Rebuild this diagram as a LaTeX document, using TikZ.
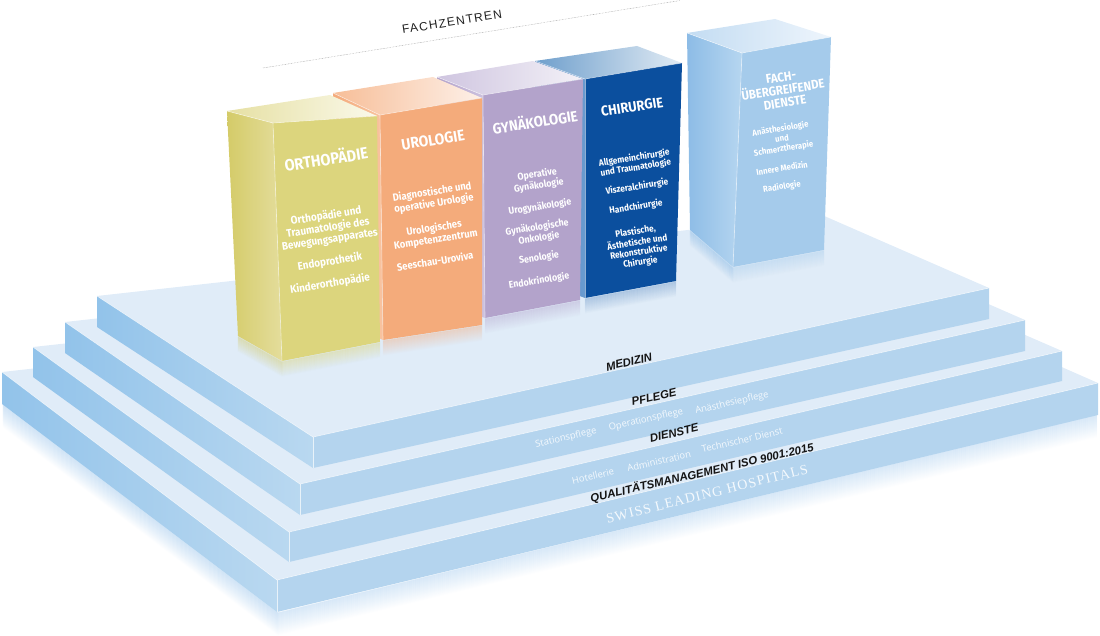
\documentclass[tikz,border=0pt]{standalone}
\usepackage{fontspec}
\setmainfont{Liberation Sans}
\newfontfamily\boxfont[FakeStretch=0.9]{Fira Sans}
\newfontfamily\thinfont{Open Sans}
\newfontfamily\serfont[LetterSpace=8]{Liberation Serif}
\newfontfamily\capfont[LetterSpace=10]{Liberation Sans}
\usetikzlibrary{calc}
% slab colours
\definecolor{slabT}{HTML}{E0ECF8}
\definecolor{slabR}{HTML}{B4D4EE}
\definecolor{slabLa}{HTML}{92C3EA}
\definecolor{slabLb}{HTML}{B9D8F0}
\definecolor{shad}{HTML}{A9CDEE}
% box colours
\definecolor{yelF}{HTML}{DCD57D}\definecolor{yelLa}{HTML}{D4CB68}\definecolor{yelLb}{HTML}{E4DD9C}
\definecolor{yelTa}{HTML}{E6E0A3}\definecolor{yelTb}{HTML}{FAF9EA}
\definecolor{oraF}{HTML}{F4AB7B}\definecolor{oraLa}{HTML}{F4AB7B}\definecolor{oraLb}{HTML}{F8C3A0}
\definecolor{oraTa}{HTML}{F7BE98}\definecolor{oraTb}{HTML}{FDF0E8}
\definecolor{lilF}{HTML}{B3A3CB}\definecolor{lilLa}{HTML}{B3A3CB}\definecolor{lilLb}{HTML}{CDC2DF}
\definecolor{lilTa}{HTML}{CFC5E0}\definecolor{lilTb}{HTML}{F3F1F7}
\definecolor{chiF}{HTML}{0B4F9E}\definecolor{chiLa}{HTML}{4F86C2}\definecolor{chiLb}{HTML}{6A9BD0}
\definecolor{chiTa}{HTML}{6F9FCC}\definecolor{chiTb}{HTML}{E1EBF4}
\definecolor{facF}{HTML}{A5CBEB}\definecolor{facLa}{HTML}{8DBCE6}\definecolor{facLb}{HTML}{B6D6F0}
\definecolor{facTa}{HTML}{C3DCF2}\definecolor{facTb}{HTML}{EEF5FC}
\definecolor{ink}{HTML}{141414}
\definecolor{itemc}{HTML}{F4F9FD}

% slab: Lx Ly Fx Fy Rx Ry Bx By thickness
\newcommand\slab[9]{%
  \fill[slabT] (#1,#2) -- (#3,#4) -- (#5,#6) -- (#7,#8) -- cycle;
  \shade[left color=slabLa, right color=slabLb] (#1,#2) -- (#3,#4) -- (#3,#4+#9) -- (#1,#2+#9) -- cycle;
  \fill[slabR] (#3,#4) -- (#5,#6) -- (#5,#6+#9) -- (#3,#4+#9) -- cycle;
  \draw[slabedge] (#1,#2) -- (#3,#4) -- (#5,#6);
  \draw[slabedge] (#3,#4) -- (#3,#4+#9);
}
% cube: L B R F F' R' L' colourprefix
\newcommand\cube[8]{%
  \shade[left color=#8La, right color=#8Lb] #1 -- #4 -- #5 -- #7 -- cycle;
  \shade[left color=#8Ta, right color=#8Tb] #1 -- #2 -- #3 -- #4 -- cycle;
  \fill[#8F] #4 -- #3 -- #6 -- #5 -- cycle;
  \draw[boxedge] #1 -- #4 -- #3;
  \draw[boxedge] #4 -- #5;
}
% reflection band below an edge
\newcommand\refl[4]{%
  \foreach \k [evaluate=\k as \op using #4*(1-\k/16)] in {1,...,16}
    \draw[#3, draw opacity=\op, line width=1.2pt] ($#1+(0,\k)$) -- ($#2+(0,\k)$);
}

\begin{document}
\begin{tikzpicture}[x=1pt,y=-1pt,
  slabedge/.style={draw=white, draw opacity=0.7, line width=0.6pt},
  boxedge/.style={draw=white, draw opacity=0.55, line width=0.6pt},
  ttl/.style={text=white, rotate=9, align=center, inner sep=0pt},
  sub/.style={text=white, rotate=9, align=center, inner sep=0pt},
  lvl/.style={text=ink, font=\bfseries\itshape\fontsize{11.4}{12}\selectfont, rotate=13, inner sep=0pt},
  item/.style={text=itemc, font=\thinfont\fontsize{9.4}{10}\selectfont, rotate=13, inner sep=0pt},
]
\useasboundingbox (0,0) rectangle (1100,636);

% title and dotted line
\draw[gray!70, line width=0.5pt, dash pattern=on 0.6pt off 0.9pt] (263,68) -- (680,0.5);
\node[text=black!88, font=\capfont\fontsize{12}{13}\selectfont, rotate=9, inner sep=0pt] (title) at (452,22) {FACHZENTREN};

% shadow of the whole stack
\foreach \k [evaluate=\k as \op using 0.4*(1-\k/24)] in {1,...,24}
  \draw[shad, draw opacity=\op, line width=1.2pt] (3,404+\k) -- (278,612+\k) -- (1097,414+\k);

% slabs, bottom to top
\slab{2}{372}{277}{580}{1098}{383}{857}{277}{32}
\slab{33}{347}{289}{532}{1062}{351}{848}{258}{30}
\slab{65}{322}{300}{484}{1025}{320}{835}{237}{31}
\slab{97}{296}{313}{437}{989}{288}{822}{215}{31}

% reflections of the boxes on the top slab
\refl{(238,336)}{(282,361)}{yelLa}{0.35}
\refl{(282,361)}{(380,342)}{yelF}{0.4}
\refl{(383,340)}{(482,325)}{oraF}{0.35}
\refl{(485,318)}{(580,300)}{lilF}{0.35}
\refl{(585,298)}{(676,281)}{chiF}{0.2}
\refl{(690,230)}{(733,267)}{facLa}{0.35}
\refl{(733,267)}{(824,250)}{facF}{0.35}

% boxes, back to front
\cube{(687,33)}{(775,19)}{(831,37)}{(742,53)}{(733,267)}{(824,250)}{(690,230)}{fac}
\cube{(535,61)}{(637,46)}{(682,63)}{(585,79)}{(585,298)}{(676,281)}{(537,280)}{chi}
\cube{(437,77)}{(533,61)}{(583,79)}{(483,95)}{(485,318)}{(580,300)}{(439,300)}{lil}
\cube{(333,93)}{(433,77)}{(482,98)}{(380,115)}{(383,340)}{(482,325)}{(336,318)}{ora}
\cube{(227,111)}{(330,95)}{(377,116)}{(273,123)}{(282,361)}{(380,342)}{(238,336)}{yel}

% box texts
\node[ttl, font=\boxfont\bfseries\fontsize{16.2}{17}\selectfont] (orthoT) at (326,158) {ORTHOPÄDIE};
\node[sub, font=\boxfont\bfseries\fontsize{11}{12}\selectfont] (ortho1) at (328,228) {Orthopädie und\\Traumatologie des\\Bewegungsapparates};
\node[sub, font=\boxfont\bfseries\fontsize{11}{12}\selectfont] (ortho2) at (330,262) {Endoprothetik};
\node[sub, font=\boxfont\bfseries\fontsize{11}{12}\selectfont] (ortho3) at (330,284) {Kinderorthopädie};

\node[ttl, font=\boxfont\bfseries\fontsize{15.5}{17}\selectfont] (uroT) at (433,140) {UROLOGIE};
\node[sub, font=\boxfont\bfseries\fontsize{10.5}{11.5}\selectfont] (uro1) at (433,198) {Diagnostische und\\operative Urologie};
\node[sub, font=\boxfont\bfseries\fontsize{10.5}{11.5}\selectfont] (uro2) at (435,234) {Urologisches\\Kompetenzzentrum};
\node[sub, font=\boxfont\bfseries\fontsize{10.5}{11.5}\selectfont] (uro3) at (435,261) {Seeschau-Uroviva};

\node[ttl, font=\boxfont\bfseries\fontsize{14.9}{16}\selectfont] (gynT) at (535,121) {GYNÄKOLOGIE};
\node[sub, font=\boxfont\bfseries\fontsize{9.8}{11}\selectfont] (gyn1) at (538,180) {Operative\\Gynäkologie};
\node[sub, font=\boxfont\bfseries\fontsize{9.8}{11}\selectfont] (gyn2) at (540,207) {Urogynäkologie};
\node[sub, font=\boxfont\bfseries\fontsize{9.8}{11}\selectfont] (gyn3) at (538,233) {Gynäkologische\\Onkologie};
\node[sub, font=\boxfont\bfseries\fontsize{9.8}{11}\selectfont] (gyn4) at (539,258) {Senologie};
\node[sub, font=\boxfont\bfseries\fontsize{9.8}{11}\selectfont] (gyn5) at (539,281) {Endokrinologie};

\node[ttl, font=\boxfont\bfseries\fontsize{14.3}{15}\selectfont] (chiT) at (632,107) {CHIRURGIE};
\node[sub, font=\boxfont\bfseries\fontsize{9.2}{10}\selectfont] (chi1) at (635,163) {Allgemeinchirurgie\\und Traumatologie};
\node[sub, font=\boxfont\bfseries\fontsize{9.2}{10}\selectfont] (chi2) at (637,187) {Viszeralchirurgie};
\node[sub, font=\boxfont\bfseries\fontsize{9.2}{10}\selectfont] (chi3) at (636,207) {Handchirurgie};
\node[sub, font=\boxfont\bfseries\fontsize{9.2}{10}\selectfont] (chi4) at (638,247) {Plastische,\\Ästhetische und\\Rekonstruktive\\Chirurgie};

\node[ttl, font=\boxfont\bfseries\fontsize{12.7}{13}\selectfont] (facT) at (783,90) {FACH-\\ÜBERGREIFENDE\\DIENSTE};
\node[sub, font=\boxfont\bfseries\fontsize{8.6}{10}\selectfont] (fac1) at (782,139) {Anästhesiologie\\und\\Schmerztherapie};
\node[sub, font=\boxfont\bfseries\fontsize{8.6}{10}\selectfont] (fac2) at (782,168) {Innere Medizin};
\node[sub, font=\boxfont\bfseries\fontsize{8.6}{10}\selectfont] (fac3) at (782,187) {Radiologie};

% level labels
\node[lvl] (med) at (629,362) {MEDIZIN};
\node[lvl] (pfl) at (654,397) {PFLEGE};
\node[item] (p1) at (566,438) {Stationspflege};
\node[item] (p2) at (646,420) {Operationspflege};
\node[item] (p3) at (732,403) {Anästhesiepflege};
\node[lvl] (die) at (674,433) {DIENSTE};
\node[item] (d1) at (593,476) {Hotellerie};
\node[item] (d2) at (659,461) {Administration};
\node[item] (d3) at (742,440) {Technischer Dienst};
\node[lvl] (qm) at (702,473) {QUALITÄTSMANAGEMENT ISO 9001:2015};
\node[text=itemc, font=\serfont\fontsize{14}{15}\selectfont, rotate=14, inner sep=0pt] (slh) at (707,494) {SWISS LEADING HOSPITALS};
\end{tikzpicture}
\end{document}
